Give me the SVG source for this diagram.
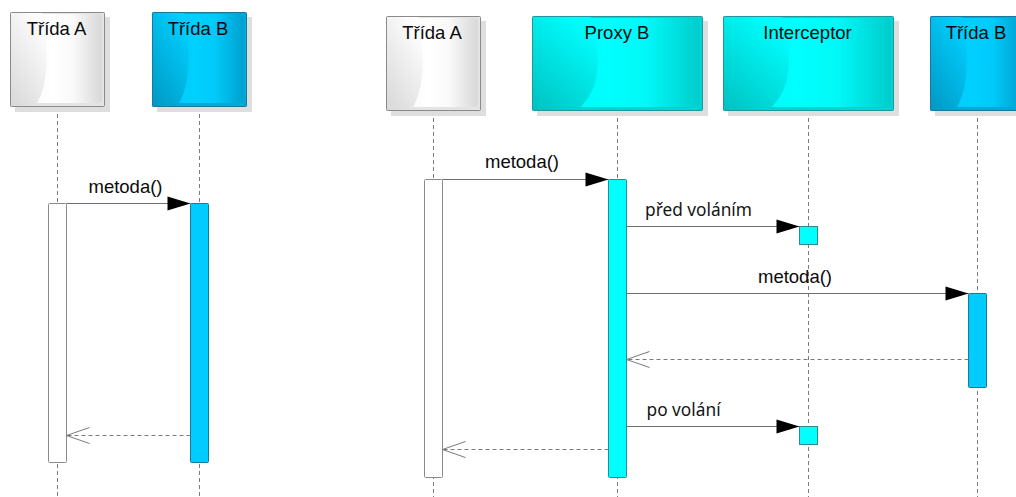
<svg xmlns="http://www.w3.org/2000/svg" width="1016" height="497" viewBox="0 0 1016 497">
  <defs>
    <!-- body shading of the lifeline heads (right part) -->
    <linearGradient id="whiteBody" x1="0" y1="0" x2="1" y2="0">
      <stop offset="0" stop-color="#f6f6f6"/>
      <stop offset="0.45" stop-color="#ffffff"/>
      <stop offset="0.68" stop-color="#f9f9f9"/>
      <stop offset="1" stop-color="#d8d8d8"/>
    </linearGradient>
    <linearGradient id="blueBody" x1="0" y1="0" x2="1" y2="0">
      <stop offset="0" stop-color="#00c8f8"/>
      <stop offset="0.45" stop-color="#00d0ff"/>
      <stop offset="0.68" stop-color="#00caf9"/>
      <stop offset="1" stop-color="#00a0cf"/>
    </linearGradient>
    <linearGradient id="cyanBody" x1="0" y1="0" x2="1" y2="0">
      <stop offset="0" stop-color="#00f6f6"/>
      <stop offset="0.45" stop-color="#00ffff"/>
      <stop offset="0.68" stop-color="#00f8f8"/>
      <stop offset="1" stop-color="#00cccc"/>
    </linearGradient>
    <!-- curved gloss on the left part of the heads -->
    <linearGradient id="whiteGloss" x1="0.7" y1="0.05" x2="0.1" y2="1">
      <stop offset="0" stop-color="#fdfdfd"/>
      <stop offset="1" stop-color="#d9d9d9"/>
    </linearGradient>
    <linearGradient id="blueGloss" x1="0.7" y1="0.05" x2="0.1" y2="1">
      <stop offset="0" stop-color="#00cdfc"/>
      <stop offset="1" stop-color="#009ac6"/>
    </linearGradient>
    <linearGradient id="cyanGloss" x1="0.7" y1="0.05" x2="0.1" y2="1">
      <stop offset="0" stop-color="#00fdfd"/>
      <stop offset="1" stop-color="#00c4c4"/>
    </linearGradient>
    <path id="gloss" d="M0,0 L0.34,0 C0.39,0.25 0.4,0.55 0.36,0.75 C0.33,0.87 0.3,0.94 0.26,1 L0,1 Z"/>

    <marker id="filled" markerUnits="userSpaceOnUse" markerWidth="24" markerHeight="16" refX="23" refY="7" orient="auto" overflow="visible">
      <path d="M0,0 L23,7 L0,14 Z" fill="#000"/>
    </marker>
    <marker id="open" markerUnits="userSpaceOnUse" markerWidth="24" markerHeight="18" refX="23" refY="8" orient="auto" overflow="visible">
      <path d="M0,0 L23,8 L0,16" fill="none" stroke="#7a7a7a" stroke-width="1"/>
    </marker>

    <style>
      .shadow { fill: #dedede; }
      .frame { fill: none; stroke-width: 1; }
      .fw { stroke: #8a8a8a; }
      .fb { stroke: #1a7898; }
      .fc { stroke: #259696; }
      .ew { fill: #e4e4e4; }
      .eb { fill: #00aad8; }
      .ec { fill: #00d4d4; }
      .title { font-family: "Liberation Sans", Arial, sans-serif; font-size: 18.5px; fill: #0a0a0a; text-anchor: middle; }
      .lifeline { stroke: #7c7c7c; stroke-width: 1; stroke-dasharray: 4 3; fill: none; }
      .act-w { fill: #ffffff; stroke: #8a8a8a; stroke-width: 1; }
      .act-b { fill: #00ccff; stroke: #1a7898; stroke-width: 1; }
      .act-c { fill: #00ffff; stroke: #2a8c8c; stroke-width: 1; }
      .call { stroke: #707070; stroke-width: 1; fill: none; marker-end: url(#filled); }
      .reply { stroke: #7a7a7a; stroke-width: 1; stroke-dasharray: 4 3; fill: none; marker-end: url(#open); }
      .mlabel { font-family: "Liberation Sans", Arial, sans-serif; font-size: 18.5px; fill: #0a0a0a; text-anchor: middle; }
      .note { font-family: "Noto Sans", "Open Sans", sans-serif; font-size: 17.3px; fill: #141414; }
    </style>
  </defs>

  <rect width="1016" height="497" fill="#ffffff"/>

  <!-- lifelines -->
  <g id="lifelines">
    <line class="lifeline" x1="57.5" y1="107" x2="57.5" y2="497"/>
    <line class="lifeline" x1="199.5" y1="107" x2="199.5" y2="497"/>
    <line class="lifeline" x1="433.5" y1="111" x2="433.5" y2="497"/>
    <line class="lifeline" x1="617.5" y1="111" x2="617.5" y2="497"/>
    <line class="lifeline" x1="808.5" y1="111" x2="808.5" y2="497"/>
    <line class="lifeline" x1="977.5" y1="111" x2="977.5" y2="497"/>
  </g>

  <!-- simple call: A -> B -->
  <g id="left-trida-a">
    <rect class="shadow" x="15" y="17" width="95" height="95"/>
    <rect class="ew" x="10.5" y="12.5" width="94" height="94"/>
    <rect x="12" y="14" width="90" height="89" rx="4" fill="url(#whiteBody)"/>
    <use href="#gloss" transform="translate(10.5,12.5) scale(94,94)" fill="url(#whiteGloss)"/>
    <rect class="frame fw" x="10.5" y="12.5" width="94" height="94" rx="1"/>
    <text class="title" x="56.5" y="35">Třída A</text>
    <rect class="act-w" x="48.5" y="203.5" width="18" height="259" rx="1"/>
  </g>

  <g id="left-trida-b">
    <rect class="shadow" x="157" y="17" width="95" height="95"/>
    <rect class="eb" x="152.5" y="12.5" width="94" height="94"/>
    <rect x="154" y="14" width="90" height="89" rx="4" fill="url(#blueBody)"/>
    <use href="#gloss" transform="translate(152.5,12.5) scale(94,94)" fill="url(#blueGloss)"/>
    <rect class="frame fb" x="152.5" y="12.5" width="94" height="94" rx="1"/>
    <text class="title" x="198" y="35">Třída B</text>
    <rect class="act-b" x="190.5" y="203.5" width="18" height="259" rx="1"/>
  </g>

  <!-- proxied call: A -> Proxy B -> Interceptor / B -->
  <g id="right-trida-a">
    <rect class="shadow" x="391" y="21" width="95" height="95"/>
    <rect class="ew" x="386.5" y="16.5" width="94" height="94"/>
    <rect x="388" y="18" width="90" height="89" rx="4" fill="url(#whiteBody)"/>
    <use href="#gloss" transform="translate(386.5,16.5) scale(94,94)" fill="url(#whiteGloss)"/>
    <rect class="frame fw" x="386.5" y="16.5" width="94" height="94" rx="1"/>
    <text class="title" x="432" y="39">Třída A</text>
    <rect class="act-w" x="424.5" y="179.5" width="18" height="298" rx="1"/>
  </g>

  <g id="proxy-b">
    <rect class="shadow" x="537" y="21" width="171" height="95"/>
    <rect class="ec" x="532.5" y="16.5" width="170" height="94"/>
    <rect x="534" y="18" width="166" height="89" rx="4" fill="url(#cyanBody)"/>
    <use href="#gloss" transform="translate(532.5,16.5) scale(170,94)" fill="url(#cyanGloss)"/>
    <rect class="frame fc" x="532.5" y="16.5" width="170" height="94" rx="1"/>
    <text class="title" x="617" y="39">Proxy B</text>
    <rect class="act-c" x="608.5" y="179.5" width="18" height="298" rx="1"/>
  </g>

  <g id="interceptor">
    <rect class="shadow" x="728" y="21" width="171" height="95"/>
    <rect class="ec" x="723.5" y="16.5" width="170" height="94"/>
    <rect x="725" y="18" width="166" height="89" rx="4" fill="url(#cyanBody)"/>
    <use href="#gloss" transform="translate(723.5,16.5) scale(170,94)" fill="url(#cyanGloss)"/>
    <rect class="frame fc" x="723.5" y="16.5" width="170" height="94" rx="1"/>
    <text class="title" x="807.5" y="39">Interceptor</text>
    <rect class="act-c" x="799.5" y="226.5" width="18" height="18"/>
    <rect class="act-c" x="799.5" y="426.5" width="18" height="18"/>
  </g>

  <g id="right-trida-b">
    <rect class="shadow" x="935" y="21" width="95" height="95"/>
    <rect class="eb" x="930.5" y="16.5" width="94" height="94"/>
    <rect x="932" y="18" width="90" height="89" rx="4" fill="url(#blueBody)"/>
    <use href="#gloss" transform="translate(930.5,16.5) scale(94,94)" fill="url(#blueGloss)"/>
    <rect class="frame fb" x="930.5" y="16.5" width="94" height="94" rx="1"/>
    <text class="title" x="976" y="39">Třída B</text>
    <rect class="act-b" x="968.5" y="293.5" width="18" height="94" rx="1"/>
  </g>

  <!-- messages -->
  <g id="messages">
    <line class="call" x1="66.5" y1="203.5" x2="190.5" y2="203.5"/>
    <text class="mlabel" x="125.5" y="193">metoda()</text>
    <line class="reply" x1="190.5" y1="435.5" x2="66.5" y2="435.5"/>

    <line class="call" x1="442.5" y1="179.5" x2="608.5" y2="179.5"/>
    <text class="mlabel" x="522" y="168">metoda()</text>
    <line class="call" x1="626.5" y1="226.5" x2="799.5" y2="226.5"/>
    <text class="note" x="645" y="215.5">před voláním</text>
    <line class="call" x1="626.5" y1="293.5" x2="968.5" y2="293.5"/>
    <text class="mlabel" x="795" y="283">metoda()</text>
    <line class="reply" x1="968.5" y1="359.5" x2="626.5" y2="359.5"/>
    <line class="call" x1="626.5" y1="426.5" x2="799.5" y2="426.5"/>
    <text class="note" x="646.5" y="415.5">po volání</text>
    <line class="reply" x1="608.5" y1="449.5" x2="442.5" y2="449.5"/>
  </g>
</svg>
